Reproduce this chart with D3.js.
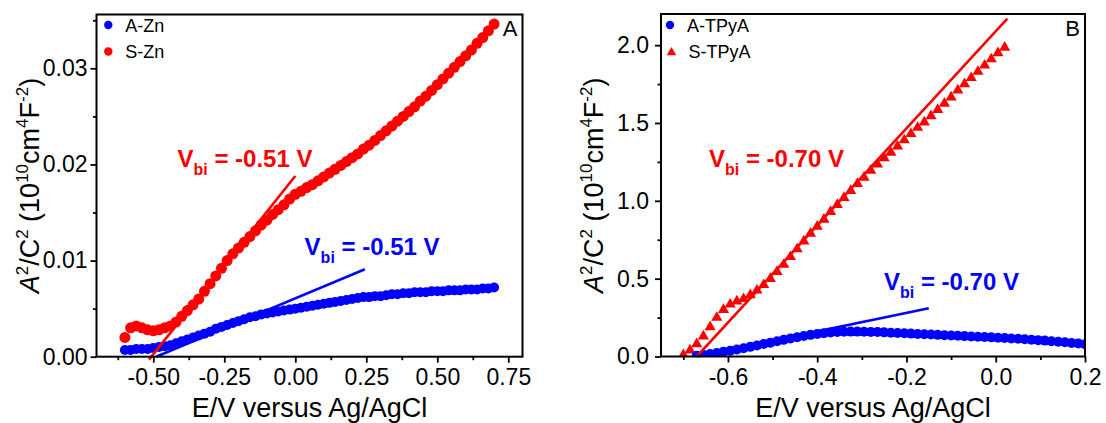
<!DOCTYPE html>
<html>
<head>
<meta charset="utf-8">
<style>
  body { margin: 0; background: #fff; }
  svg text { font-family: "Liberation Sans", Arial, sans-serif; }
</style>
</head>
<body>
<svg width="1106" height="423"></svg>
<script src="https://d3js.org/d3.v7.min.js"></script>
<script>

    // ---- panel A data (E in V, A^2/C^2 in 1e10 cm^4 F^-2) ----
    var znE = [-0.60, -0.58, -0.56, -0.54, -0.52, -0.50, -0.48, -0.46, -0.44, -0.42,
               -0.40, -0.38, -0.36, -0.34, -0.32, -0.30, -0.28, -0.26, -0.24, -0.22,
               -0.20, -0.18, -0.16, -0.14, -0.12, -0.10, -0.08, -0.06, -0.04, -0.02,
                0.00,  0.02,  0.04,  0.06,  0.08,  0.10,  0.12,  0.14,  0.16,  0.18,
                0.20,  0.22,  0.24,  0.26,  0.28,  0.30,  0.32,  0.34,  0.36,  0.38,
                0.40,  0.42,  0.44,  0.46,  0.48,  0.50,  0.52,  0.54,  0.56,  0.58,
                0.60,  0.62,  0.64,  0.66,  0.68,  0.70];

    var sZn = [0.0020, 0.0030, 0.0032, 0.0030, 0.0028, 0.0027, 0.0028, 0.0030, 0.0032, 0.0036,
               0.0042, 0.0048, 0.0054, 0.0060, 0.0068, 0.0076, 0.0084, 0.0092, 0.0100, 0.0107,
               0.0113, 0.0119, 0.0125, 0.0131, 0.0137, 0.0142, 0.0148, 0.0153, 0.0158, 0.0164,
               0.0169, 0.0172, 0.0176, 0.0179, 0.0183, 0.0187, 0.0191, 0.0195, 0.0199, 0.0203,
               0.0207, 0.0211, 0.0216, 0.0220, 0.0225, 0.0230, 0.0235, 0.0240, 0.0245, 0.0250,
               0.0255, 0.0260, 0.0266, 0.0271, 0.0277, 0.0283, 0.0289, 0.0295, 0.0301, 0.0307,
               0.0313, 0.0319, 0.0326, 0.0332, 0.0339, 0.0346];

    var aZn = [0.0007, 0.0007, 0.0008, 0.0008, 0.0008, 0.0009, 0.0010, 0.0011, 0.0012, 0.0014,
               0.0016, 0.0018, 0.0020, 0.0022, 0.0024, 0.0026, 0.0029, 0.0031, 0.0033, 0.0035,
               0.0037, 0.0039, 0.0041, 0.0042, 0.0044, 0.0045, 0.0046, 0.0047, 0.0048, 0.0049,
               0.0050, 0.0051, 0.0052, 0.0053, 0.0054, 0.0055, 0.0056, 0.0057, 0.0058, 0.0059,
               0.0060, 0.0061, 0.0062, 0.0062, 0.0063, 0.0063, 0.0064, 0.0065, 0.0065, 0.0066,
               0.0066, 0.0067, 0.0067, 0.0067, 0.0068, 0.0068, 0.0068, 0.0069, 0.0069, 0.0069,
               0.0070, 0.0070, 0.0070, 0.0071, 0.0071, 0.0072];

    // Mott-Schottky fit lines, [E, value] end points
    var fitSZn = [[-0.515, -0.0003], [0.0, 0.0188]];
    var fitAZn = [[-0.49, 0.0], [0.245, 0.0091]];

    // ---- panel B data ----
    var sTpyaE = [-0.700, -0.685, -0.670, -0.655, -0.640, -0.625, -0.610, -0.595, -0.580, -0.565,
                  -0.550, -0.535, -0.520, -0.505, -0.490, -0.475, -0.460, -0.445, -0.430, -0.415,
                  -0.400, -0.385, -0.370, -0.355, -0.340, -0.325, -0.310, -0.295, -0.280, -0.265,
                  -0.250, -0.235, -0.220, -0.205, -0.190, -0.175, -0.160, -0.145, -0.130, -0.115,
                  -0.100, -0.085, -0.070, -0.055, -0.040, -0.025, -0.010,  0.005,  0.020];
    var sTpya = [0.01, 0.04, 0.08, 0.13, 0.19, 0.25, 0.30, 0.335, 0.355, 0.37,
                 0.395, 0.425, 0.46, 0.50, 0.545, 0.59, 0.64, 0.69, 0.74, 0.79,
                 0.835, 0.88, 0.93, 0.975, 1.02, 1.065, 1.11, 1.15, 1.195, 1.235,
                 1.275, 1.31, 1.35, 1.39, 1.43, 1.47, 1.505, 1.545, 1.585, 1.625,
                 1.665, 1.71, 1.75, 1.79, 1.83, 1.87, 1.91, 1.95, 1.985];

    var aTpyaE = [-0.670, -0.655, -0.640, -0.625, -0.610, -0.595, -0.580, -0.565, -0.550, -0.535,
                  -0.520, -0.505, -0.490, -0.475, -0.460, -0.445, -0.430, -0.415, -0.400, -0.385,
                  -0.370, -0.355, -0.340, -0.325, -0.310, -0.295, -0.280, -0.265, -0.250, -0.235,
                  -0.220, -0.205, -0.190, -0.175, -0.160, -0.145, -0.130, -0.115, -0.100, -0.085,
                  -0.070, -0.055, -0.040, -0.025, -0.010,  0.005,  0.020,  0.035,  0.050,  0.065,
                   0.080,  0.095,  0.110,  0.125,  0.140,  0.155,  0.170,  0.185,  0.200];
    var aTpya = [0.005, 0.010, 0.016, 0.023, 0.030, 0.037, 0.045, 0.053, 0.062, 0.071,
                 0.080, 0.089, 0.098, 0.107, 0.116, 0.124, 0.132, 0.139, 0.145, 0.150,
                 0.154, 0.157, 0.159, 0.160, 0.160, 0.159, 0.158, 0.157, 0.155, 0.153,
                 0.151, 0.149, 0.147, 0.145, 0.143, 0.141, 0.139, 0.137, 0.135, 0.133,
                 0.131, 0.129, 0.127, 0.125, 0.123, 0.121, 0.119, 0.116, 0.114, 0.111,
                 0.108, 0.105, 0.102, 0.098, 0.095, 0.091, 0.087, 0.083, 0.079];

    var fitSTpya = [[-0.67, 0.0], [0.026, 2.17]];
    var fitATpya = [[-0.67, 0.0], [-0.15, 0.31]];

    // ---- ticks ----
    var xMajorA = [-0.50, -0.25, 0.00, 0.25, 0.50, 0.75];
    var xMinorA = [-0.625, -0.375, -0.125, 0.125, 0.375, 0.625];
    var yMajorA = [0.00, 0.01, 0.02, 0.03];
    var yMinorA = [0.005, 0.015, 0.025, 0.035];
    var xMajorB = [-0.6, -0.4, -0.2, 0.0, 0.2];
    var xMinorB = [-0.7, -0.5, -0.3, -0.1, 0.1];
    var yMajorB = [0.0, 0.5, 1.0, 1.5, 2.0];
    var yMinorB = [0.25, 0.75, 1.25, 1.75];

    var RED = "#ff0000", BLUE = "#0000ff";
    var svg = d3.select("svg");

    function zip(xs, ys) { return xs.map(function(d, i) { return [d, ys[i]]; }); }

    function drawPanel(p) {
        var x = d3.scaleLinear().domain(p.xDomain).range([p.left, p.right]);
        var y = d3.scaleLinear().domain(p.yDomain).range([p.bottom, p.top]);
        var g = svg.append("g");

        g.append("clipPath").attr("id", "clip" + p.name)
            .append("rect")
            .attr("x", p.left).attr("y", p.top)
            .attr("width", p.right - p.left).attr("height", p.bottom - p.top);

        // axes: majors with labels, minors without
        function styleAxis(ax) {
            ax.select(".domain").remove();
            ax.selectAll("line").attr("stroke", "#000").attr("stroke-width", 1.8);
            ax.selectAll("text").attr("font-size", 23).attr("font-family", null).attr("fill", "#000");
        }
        var fmt = function(d) { return d.toFixed(p.digits); };
        g.append("g").attr("transform", "translate(0," + p.bottom + ")")
            .call(d3.axisBottom(x).tickValues(p.xMajor).tickSize(6).tickPadding(6).tickFormat(fmt))
            .call(styleAxis);
        g.append("g").attr("transform", "translate(0," + p.bottom + ")")
            .call(d3.axisBottom(x).tickValues(p.xMinor).tickSize(3.5).tickFormat(""))
            .call(styleAxis);
        g.append("g").attr("transform", "translate(" + p.left + ",0)")
            .call(d3.axisLeft(y).tickValues(p.yMajor).tickSize(6).tickPadding(p.yPad).tickFormat(function(d) { return d.toFixed(p.yDigits); }))
            .call(styleAxis);
        g.append("g").attr("transform", "translate(" + p.left + ",0)")
            .call(d3.axisLeft(y).tickValues(p.yMinor).tickSize(3.5).tickFormat(""))
            .call(styleAxis);

        // data
        var data = g.append("g").attr("clip-path", "url(#clip" + p.name + ")");
        p.series.forEach(function(s) {
            var pts = zip(s.xs, s.ys);
            if (s.shape === "triangle") {
                data.selectAll(null).data(pts).enter().append("path")
                    .attr("d", d3.symbol().type(d3.symbolTriangle).size(54))
                    .attr("transform", function(d) { return "translate(" + x(d[0]) + "," + y(d[1]) + ")"; })
                    .attr("fill", s.color);
            } else {
                data.selectAll(null).data(pts).enter().append("circle")
                    .attr("cx", function(d) { return x(d[0]); })
                    .attr("cy", function(d) { return y(d[1]); })
                    .attr("r", s.r)
                    .attr("fill", s.color);
            }
        });

        // fit lines
        var line = d3.line().x(function(d) { return x(d[0]); }).y(function(d) { return y(d[1]); });
        p.fits.forEach(function(f) {
            g.append("path").datum(f.pts)
                .attr("d", line).attr("fill", "none")
                .attr("stroke", f.color).attr("stroke-width", 2.6);
        });

        // frame
        g.append("rect")
            .attr("x", p.left).attr("y", p.top)
            .attr("width", p.right - p.left).attr("height", p.bottom - p.top)
            .attr("fill", "none").attr("stroke", "#000").attr("stroke-width", 2);

        // annotations V_bi
        p.notes.forEach(function(n) {
            var t = g.append("text").attr("x", n.x).attr("y", n.y)
                .attr("font-size", 24).attr("font-weight", "bold").attr("fill", n.color);
            t.append("tspan").text("V");
            t.append("tspan").attr("font-size", 16).attr("dy", 8).text("bi");
            t.append("tspan").attr("dy", -8).text(" = " + n.text);
        });

        // legend
        p.legend.forEach(function(l, i) {
            var cy = 25 + i * 26.5;
            if (l.shape === "triangle") {
                g.append("path")
                    .attr("d", d3.symbol().type(d3.symbolTriangle).size(40))
                    .attr("transform", "translate(" + l.x + "," + (cy + 1) + ")")
                    .attr("fill", l.color);
            } else {
                g.append("circle").attr("cx", l.x).attr("cy", cy).attr("r", 4.2).attr("fill", l.color);
            }
            g.append("text").attr("x", l.x + 17).attr("y", cy + 6.5)
                .attr("font-size", 18).attr("fill", "#000").text(l.label);
        });

        // panel letter
        g.append("text").attr("x", p.right - 5).attr("y", 36)
            .attr("text-anchor", "end").attr("font-size", 22).text(p.name);

        // x title
        g.append("text").attr("x", (p.left + p.right) / 2).attr("y", 416.5)
            .attr("text-anchor", "middle").attr("font-size", 27).text("E/V versus Ag/AgCl");

        // y title with superscripts
        var yt = g.append("text")
            .attr("transform", "translate(" + (p.left - 58) + "," + ((p.top + p.bottom) / 2) + ") rotate(-90)")
            .attr("text-anchor", "middle").attr("font-size", 27);
        var parts = [["A", 0, true], ["2", 1], ["/C", 0], ["2", 1], [" (10", 0], ["10", 1],
                     ["cm", 0], ["4", 1], ["F", 0], ["-2", 1], [")", 0]];
        var prev = 0;
        parts.forEach(function(q) {
            var ts = yt.append("tspan").text(q[0]);
            var shift = q[1] ? -11 : 0;
            ts.attr("dy", shift - prev);
            if (q[1]) ts.attr("font-size", 17);
            if (q[2]) ts.attr("font-style", "italic");
            prev = shift;
        });
    }

    drawPanel({
        name: "A", left: 96.5, right: 522.5, top: 14.5, bottom: 356.7,
        xDomain: [-0.7, 0.8], yDomain: [0, 0.0356], digits: 2, yDigits: 2, yPad: 3,
        xMajor: xMajorA, xMinor: xMinorA, yMajor: yMajorA, yMinor: yMinorA,
        series: [
            {xs: znE, ys: aZn, color: BLUE, r: 5},
            {xs: znE, ys: sZn, color: RED, r: 5.5}
        ],
        fits: [{pts: fitSZn, color: RED}, {pts: fitAZn, color: BLUE}],
        notes: [
            {x: 177.5, y: 166.7, color: RED, text: "-0.51 V"},
            {x: 304.6, y: 255, color: BLUE, text: "-0.51 V"}
        ],
        legend: [
            {x: 108.3, color: BLUE, label: "A-Zn"},
            {x: 108.3, color: RED, label: "S-Zn"}
        ]
    });

    drawPanel({
        name: "B", left: 661, right: 1085, top: 14, bottom: 356.5,
        xDomain: [-0.75, 0.2], yDomain: [0, 2.2], digits: 1, yDigits: 1, yPad: 6,
        xMajor: xMajorB, xMinor: xMinorB, yMajor: yMajorB, yMinor: yMinorB,
        series: [
            {xs: sTpyaE, ys: sTpya, color: RED, shape: "triangle"},
            {xs: aTpyaE, ys: aTpya, color: BLUE, r: 5}
        ],
        fits: [{pts: fitSTpya, color: RED}, {pts: fitATpya, color: BLUE}],
        notes: [
            {x: 709, y: 166.7, color: RED, text: "-0.70 V"},
            {x: 884, y: 290, color: BLUE, text: "-0.70 V"}
        ],
        legend: [
            {x: 670, color: BLUE, label: "A-TPyA"},
            {x: 671.5, color: RED, label: "S-TPyA", shape: "triangle"}
        ]
    });

</script>
</body>
</html>
